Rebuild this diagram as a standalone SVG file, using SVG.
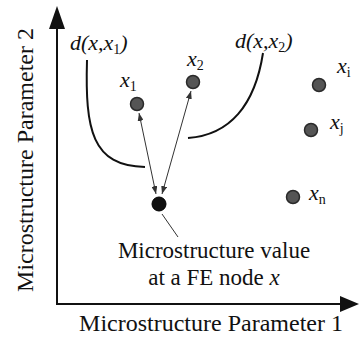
<svg xmlns="http://www.w3.org/2000/svg" width="359" height="341" viewBox="0 0 359 341">
<style>
.txt{font-family:"Liberation Serif","Times New Roman",serif;fill:#111;}
.lbl{font-size:23px;}
.ax{font-size:24px;}
.it{font-family:"Liberation Serif","Times New Roman",serif;font-style:italic;font-size:22px;fill:#111;}
.sub{font-size:14px;font-style:normal;}
.pt{fill:#555;stroke:#2a2a2a;stroke-width:1.5;}
.fe{fill:#111;stroke:#000;stroke-width:1;}
.axis{stroke:#111;stroke-width:2;fill:none;}
.curve{stroke:#111;stroke-width:2;fill:none;}
.arr{stroke:#333;stroke-width:1;fill:none;marker-start:url(#ah);marker-end:url(#ah);}
.lead{stroke:#333;stroke-width:1;fill:none;}
</style>
<defs>
<marker id="ah" viewBox="0 0 8 6" refX="8" refY="3" markerWidth="8" markerHeight="6" markerUnits="userSpaceOnUse" orient="auto-start-reverse">
<path d="M0,0 L8,3 L0,6 Z" fill="#333"/>
</marker>
</defs>
<rect width="359" height="341" fill="#fff"/>
<g id="axes">
<path class="axis" d="M57,26 L57,304 L342,304"/>
<path d="M57,6 L49,29 L65,29 Z" fill="#111"/>
<path d="M359,304 L340,296 L340,312 Z" fill="#111"/>
</g>
<g id="axis-labels">
<text class="txt ax" x="211" y="331" text-anchor="middle">Microstructure Parameter 1</text>
<text class="txt ax" transform="translate(33,160) rotate(-90)" text-anchor="middle">Microstructure Parameter 2</text>
</g>
<g id="distance-curves">
<path class="curve" d="M87,60 C85,130 92,166 145,167"/>
<path class="curve" d="M263,53 C255,105 230,135 188,138"/>
<text class="it" x="70" y="50">d(x,x<tspan class="sub" dy="4">1</tspan><tspan dy="-4">)</tspan></text>
<text class="it" x="235" y="48">d(x,x<tspan class="sub" dy="4">2</tspan><tspan dy="-4">)</tspan></text>
</g>
<g id="node-x1">
<circle class="pt" cx="137" cy="104" r="6.5"/>
<text class="it" x="120" y="87">x<tspan class="sub" dy="4">1</tspan></text>
</g>
<g id="node-x2">
<circle class="pt" cx="193" cy="82" r="6.5"/>
<text class="it" x="187" y="66">x<tspan class="sub" dy="4">2</tspan></text>
</g>
<g id="node-xi">
<circle class="pt" cx="319" cy="85" r="6.5"/>
<text class="it" x="337" y="73">x<tspan class="sub" dy="4">i</tspan></text>
</g>
<g id="node-xj">
<circle class="pt" cx="311" cy="130" r="6.5"/>
<text class="it" x="330" y="129">x<tspan class="sub" dy="4">j</tspan></text>
</g>
<g id="node-xn">
<circle class="pt" cx="293" cy="197" r="6.5"/>
<text class="it" x="309" y="200">x<tspan class="sub" dy="4">n</tspan></text>
</g>
<g id="node-fe">
<circle class="fe" cx="159" cy="204" r="7"/>
<text class="txt lbl" x="214" y="258" text-anchor="middle">Microstructure value</text>
<text class="txt lbl" x="214" y="285" text-anchor="middle">at a FE node <tspan font-style="italic">x</tspan></text>
</g>
<g id="connectors">
<path class="arr" d="M139,113 L156,194"/>
<path class="arr" d="M191,91 L162,194"/>
<path class="lead" d="M162,214 L178,237"/>
</g>
</svg>
